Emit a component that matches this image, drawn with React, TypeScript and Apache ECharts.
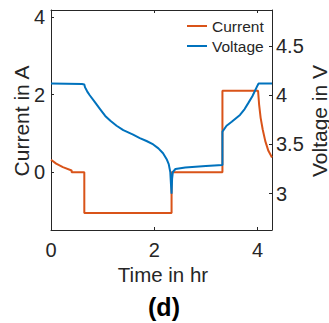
import React, { useEffect, useRef } from "react";
import * as echarts from "echarts";

// Current (A) vs time (hr)
const currentTime = [0, 0.1, 0.23, 0.4, 0.4, 0.645, 0.645, 2.335, 2.335, 3.32, 3.32, 4.01, 4.03, 4.06, 4.1, 4.15, 4.21, 4.28];
const currentValues = [0.32, 0.22, 0.13, 0.045, 0, 0, -1.05, -1.05, 0, 0, 2.1, 2.1, 1.75, 1.4, 1.1, 0.8, 0.55, 0.38];

// Voltage (V) vs time (hr)
const voltageTime = [0, 0.6, 0.645, 0.66, 0.7, 0.75, 0.85, 0.95, 1.05, 1.15, 1.27, 1.4, 1.59, 1.72, 1.85, 1.98, 2.08, 2.17, 2.24, 2.28, 2.31, 2.325, 2.335, 2.345, 2.36, 2.41, 2.6, 3.0, 3.32, 3.32, 3.4, 3.5, 3.66, 3.75, 3.82, 3.9, 4.0, 4.02, 4.28];
const voltageValues = [4.12, 4.115, 4.11, 4.08, 4.04, 4.0, 3.93, 3.86, 3.79, 3.74, 3.69, 3.645, 3.6, 3.565, 3.535, 3.5, 3.46, 3.41, 3.35, 3.3, 3.22, 3.08, 3.0, 3.15, 3.22, 3.25, 3.265, 3.28, 3.29, 3.63, 3.69, 3.73, 3.8, 3.86, 3.92, 3.99, 4.1, 4.12, 4.12];

const xTicks = [0, 2, 4];
const currentTicks = [0, 2, 4];
const voltageTicks = [3, 3.5, 4, 4.5];

const RED = "#D95319";
const BLUE = "#0072BD";
const AXIS = "#262626";
const FONT = "Liberation Sans";

export default function App() {
  const ref = useRef<HTMLDivElement>(null);
  useEffect(() => {
    if (!ref.current) return;
    const chart = echarts.init(ref.current, undefined, { renderer: "svg" });
    const axisLine = { show: true, onZero: false, lineStyle: { color: AXIS, width: 1 } };
    chart.setOption({
      animation: false,
      backgroundColor: "#ffffff",
      grid: { left: 51, right: 57, top: 10, bottom: 93, containLabel: false },
      legend: {
        orient: "vertical",
        left: 187,
        top: 18,
        padding: 0,
        icon: "rect",
        itemWidth: 20,
        itemHeight: 2,
        itemGap: 4,
        align: "left",
        textStyle: { fontFamily: FONT, fontSize: 15.5, color: AXIS, lineHeight: 16 },
        data: ["Current", "Voltage"],
      },
      xAxis: [
        {
          type: "value",
          min: 0,
          max: 4.28,
          position: "bottom",
          axisLine,
          splitLine: { show: false },
          axisTick: { show: true, inside: true, length: 3, customValues: xTicks, lineStyle: { color: AXIS } },
          axisLabel: { customValues: xTicks, margin: 10, fontFamily: FONT, fontSize: 20, color: AXIS },
        },
        {
          type: "value",
          min: 0,
          max: 4.28,
          position: "top",
          axisLine,
          splitLine: { show: false },
          axisTick: { show: true, inside: true, length: 3, customValues: xTicks, lineStyle: { color: AXIS } },
          axisLabel: { show: false },
        },
      ],
      yAxis: [
        {
          type: "value",
          min: -1.49,
          max: 4.18,
          position: "left",
          axisLine,
          splitLine: { show: false },
          axisTick: { show: true, inside: true, length: 3, customValues: currentTicks, lineStyle: { color: AXIS } },
          axisLabel: { customValues: currentTicks, margin: 6, fontFamily: FONT, fontSize: 20, color: AXIS },
        },
        {
          type: "value",
          min: 2.63,
          max: 4.867,
          position: "right",
          axisLine,
          splitLine: { show: false },
          axisTick: { show: true, inside: true, length: 3, customValues: voltageTicks, lineStyle: { color: AXIS } },
          axisLabel: { customValues: voltageTicks, margin: 4, fontFamily: FONT, fontSize: 20, color: AXIS },
        },
      ],
      series: [
        {
          name: "Current",
          type: "line",
          xAxisIndex: 0,
          yAxisIndex: 0,
          symbol: "none",
          lineStyle: { color: RED, width: 2 },
          itemStyle: { color: RED },
          data: currentTime.map((t, i) => [t, currentValues[i]]),
        },
        {
          name: "Voltage",
          type: "line",
          xAxisIndex: 0,
          yAxisIndex: 1,
          symbol: "none",
          lineStyle: { color: BLUE, width: 2 },
          itemStyle: { color: BLUE },
          data: voltageTime.map((t, i) => [t, voltageValues[i]]),
        },
      ],
      graphic: [
        {
          type: "text",
          x: 21,
          y: 121,
          rotation: Math.PI / 2,
          style: { text: "Current in A", fontFamily: FONT, fontSize: 21, fill: AXIS, align: "center", verticalAlign: "middle" },
        },
        {
          type: "text",
          x: 319,
          y: 121,
          rotation: Math.PI / 2,
          style: { text: "Voltage in V", fontFamily: FONT, fontSize: 21, fill: AXIS, align: "center", verticalAlign: "middle" },
        },
        {
          type: "text",
          x: 163,
          y: 274,
          style: { text: "Time in hr", fontFamily: FONT, fontSize: 20.5, fill: AXIS, align: "center", verticalAlign: "middle" },
        },
        {
          type: "text",
          x: 164,
          y: 307,
          style: { text: "(d)", fontFamily: FONT, fontSize: 25, fontWeight: "bold", fill: "#000000", align: "center", verticalAlign: "middle" },
        },
      ],
    });
    return () => chart.dispose();
  }, []);
  return <div ref={ref} style={{ position: "absolute", left: 0, top: 0, width: 329, height: 323 }} />;
}
